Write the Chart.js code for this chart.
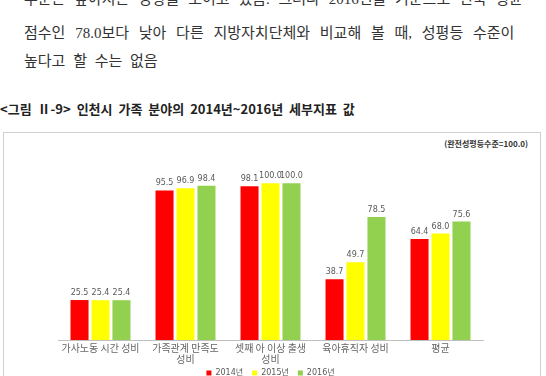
<!DOCTYPE html>
<html>
<head>
<meta charset="utf-8">
<script src="https://cdn.jsdelivr.net/npm/chart.js@4.4.1/dist/chart.umd.min.js"></script>
<style>
    body {
        margin: 0;
        width: 546px;
        height: 376px;
        overflow: hidden;
        background: #fff;
        position: relative;
    }
    .para {
        position: absolute;
        left: 24px;
        white-space: nowrap;
        font-family: "Liberation Serif", "Noto Sans CJK KR";
        font-size: 15px;
        color: #333;
        word-spacing: 6px;
    }
    .caption {
        position: absolute;
        left: 0;
        top: 99px;
        white-space: nowrap;
        font-family: "Noto Sans CJK KR";
        font-size: 13px;
        font-weight: bold;
        word-spacing: 3px;
        color: #222;
    }
    .chart-box {
        position: absolute;
        left: 3px;
        top: 132px;
        width: 536px;
        height: 260px;
        border: 1px solid #d0d0d0;
    }
    .chart-box canvas {
        position: absolute;
        left: 0;
        top: 0;
    }
    .note {
        position: absolute;
        right: 12px;
        top: 5px;
        font-family: "Noto Sans CJK KR";
        font-size: 8px;
        font-weight: bold;
        color: #333;
    }
</style>
</head>
<body>
<div class="para" style="top:-13px; word-spacing:5px">수준은 높아지는 경향을 보이고 있음. 그러나 2016년을 기준으로 전국 평균</div>
<div class="para" style="top:21px; word-spacing:6px">점수인 78.0보다 낮아 다른 지방자치단체와 비교해 볼 때, 성평등 수준이</div>
<div class="para" style="top:49px; word-spacing:4px">높다고 할 수는 없음</div>
<div class="caption">&lt;그림 Ⅱ-9&gt; 인천시 가족 분야의 2014년~2016년 세부지표 값</div>

<div class="chart-box">
    <div class="note">(완전성평등수준=100.0)</div>
    <canvas id="familyChart" width="536" height="254"></canvas>
</div>

<script>
    // data
    const categories = [
        ['가사노동 시간 성비'],
        ['가족관계 만족도', '성비'],
        ['셋째 아 이상 출생', '성비'],
        ['육아휴직자 성비'],
        ['평균']
    ];
    const years = ['2014년', '2015년', '2016년'];
    const values2014 = [25.5, 95.5, 98.1, 38.7, 64.4];
    const values2015 = [25.4, 96.9, 100.0, 49.7, 68.0];
    const values2016 = [25.4, 98.4, 100.0, 78.5, 75.6];
    const barColors = ['#ff0000', '#ffff00', '#92d050'];

    // draws the numbers above each bar
    const valueLabels = {
        id: 'valueLabels',
        afterDatasetsDraw(chart) {
            const c = chart.ctx;
            c.save();
            c.font = '8px "DejaVu Sans"';
            c.fillStyle = '#595959';
            c.textAlign = 'center';
            c.textBaseline = 'bottom';
            chart.data.datasets.forEach((ds, i) => {
                chart.getDatasetMeta(i).data.forEach((bar, j) => {
                    c.fillText(ds.data[j].toFixed(1), bar.x, bar.y - 3);
                });
            });
            c.restore();
        }
    };

    const ctx = document.getElementById('familyChart').getContext('2d');
    const familyChart = new Chart(ctx, {
        type: 'bar',
        data: {
            labels: categories,
            datasets: [
                { label: years[0], data: values2014, backgroundColor: barColors[0] },
                { label: years[1], data: values2015, backgroundColor: barColors[1] },
                { label: years[2], data: values2016, backgroundColor: barColors[2] }
            ]
        },
        options: {
            responsive: false,
            animation: false,
            datasets: {
                bar: {
                    categoryPercentage: 0.74,
                    barPercentage: 0.86
                }
            },
            layout: {
                padding: { left: 54, right: 57, top: 19, bottom: 0 }
            },
            scales: {
                y: {
                    display: false,
                    min: 0,
                    max: 120
                },
                x: {
                    grid: { display: false, drawTicks: false },
                    border: { color: '#bfbfbf' },
                    ticks: {
                        color: '#666',
                        padding: 3,
                        font: { family: 'Noto Sans CJK KR', size: 10, lineHeight: 1.1 }
                    }
                }
            },
            plugins: {
                legend: {
                    position: 'bottom',
                    labels: {
                        boxWidth: 5,
                        boxHeight: 5,
                        padding: 1,
                        color: '#595959',
                        font: { family: 'DejaVu Sans, Noto Sans CJK KR', size: 8 },
                        // spaces after the first names to widen the gap between items
                        generateLabels(chart) {
                            const items = Chart.defaults.plugins.legend.labels.generateLabels(chart);
                            return items.map((item, i) => i < items.length - 1
                                ? { ...item, text: item.text + '\u2002\u2002' }
                                : item);
                        }
                    }
                },
                tooltip: { enabled: false }
            }
        },
        plugins: [valueLabels]
    });
</script>
</body>
</html>
